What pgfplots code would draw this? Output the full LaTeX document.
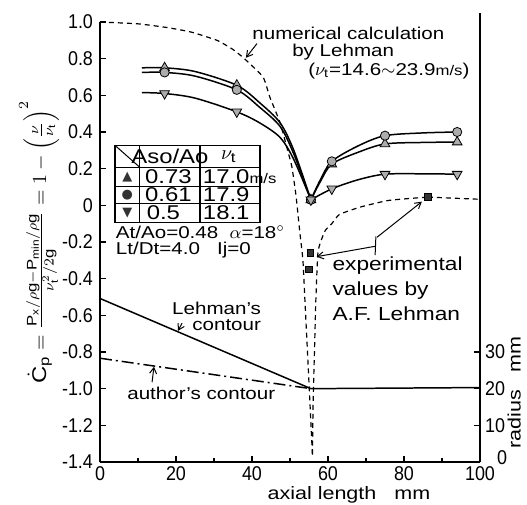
\documentclass[border=0pt]{standalone}
\usepackage{pgfplots}
\pgfplotsset{compat=1.18}
\usepackage{pgfplotstable}
\usepackage{amsmath}
\usepackage{fontspec}
\setmainfont{Liberation Sans}[FakeStretch=1.2]
\newfontfamily\tickfont{Liberation Sans}[FakeStretch=0.9]
\newfontfamily\symfont{DejaVu Sans}
\usetikzlibrary{arrows.meta}

% numerical calculation by Lehman (dashed), split at the throat
\pgfplotstableread{
x y
0 1.0
10 0.99
17.6 0.97
24 0.945
30.8 0.90
35 0.85
38 0.80
42.9 0.70
44.7 0.59
47.4 0.45
49.5 0.29
50.5 0.21
51.6 0.05
52.6 -0.15
53.4 -0.30
54.0 -0.55
54.6 -0.80
55.3 -1.10
55.9 -1.36
}\numleft
\pgfplotstableread{
x y
55.9 -1.36
56.1 -1.06
56.5 -0.75
56.8 -0.52
57.4 -0.25
59.2 -0.14
61 -0.10
63 -0.05
68.4 -0.01
76 0.027
86.3 0.045
}\numright

% measured Cp, Aso/Ao = 0.73, 0.61, 0.5
\pgfplotstableread{
x y
17 0.75
36 0.655
55.5 0.03
61 0.225
75 0.335
94 0.345
}\dataA
\pgfplotstableread{
x y
17 0.725
36 0.63
55.5 0.03
61 0.24
75 0.38
94 0.40
}\dataB
\pgfplotstableread{
x y
17 0.61
36 0.51
55.5 0.03
61 0.09
75 0.17
94 0.17
}\dataC

\tikzset{
  ann/.style={font=\fontsize{8.6}{10}\selectfont, inner sep=0pt, anchor=west},
  tab/.style={font=\fontsize{10}{11}\selectfont, inner sep=0pt},
  tabw/.style={tab, anchor=west},
  sym/.style={font=\symfont\fontsize{6.5}{7}\selectfont, text=black!80, inner sep=0pt},
}

\begin{document}
\begin{tikzpicture}[>={Straight Barb[length=3bp,width=3.5bp]}]
\useasboundingbox (-50bp,-21.5bp) rectangle (213.5bp,231bp);
\begin{axis}[
  scale only axis, width=190bp, height=220bp,
  xmin=0, xmax=100, ymin=-1.4, ymax=1.0,
  axis lines=left, axis line style={-, line width=0.75pt},
  xtick={0,20,40,60,80,100}, minor xtick={10,30,50,70,90},
  xticklabels={0,20,40,60,80,100},
  ytick={-1.4,-1.2,-1.0,-0.8,-0.6,-0.4,-0.2,0,0.2,0.4,0.6,0.8,1.0},
  yticklabels={-1.4,-1.2,-1.0,-0.8,-0.6,-0.4,-0.2,0,0.2,0.4,0.6,0.8,1.0},
  /pgf/number format/assume math mode=true,
  tick align=inside, major tick length=3bp, minor tick length=2bp,
  tick style={black, line width=0.6pt},
  ticklabel style={font=\tickfont\fontsize{10}{12}\selectfont},
  xticklabel style={yshift=1bp},
  clip=false,
  xlabel={axial length\quad mm},
  xlabel style={at={(axis description cs:0.655,-0.075)}, anchor=center, font=\fontsize{9}{11}\selectfont},
  ylabel={$\dot{\text{C}}_{\text{p}}=\frac{\text{P}_{\text{x}}/\rho\text{g}-\text{P}_{\text{min}}/\rho\text{g}}{\nu_{\text{t}}^{2}/2\text{g}}=1-\left(\frac{\nu}{\nu_{\text{t}}}\right)^{2}$},
  ylabel style={at={(axis description cs:-0.16,0.50)}, anchor=center, font=\fontsize{10}{12}\selectfont},
]
% numerical curve
\addplot[black, line width=0.6pt, dash pattern=on 2.5pt off 2pt, smooth, tension=0.3] table {\numleft};
\addplot[black, line width=0.6pt, dash pattern=on 2.5pt off 2pt, smooth, tension=0.3] table {\numright};
\addplot[black, line width=0.6pt, dash pattern=on 2.5pt off 2pt] coordinates {(86.3,0.045)(100,0.033)};

% measured curves
\addplot[black, line width=0.75pt, smooth] coordinates {(11,0.75)(17,0.75)(25,0.73)(36,0.655)(42,0.56)(47.4,0.45)(51,0.30)(55.5,0.03)};
\addplot[black, line width=0.75pt, smooth] coordinates {(11,0.725)(17,0.725)(25,0.705)(36,0.63)(42,0.535)(47.4,0.43)(51,0.28)(55.5,0.03)};
\addplot[black, line width=0.75pt, smooth] coordinates {(11,0.615)(17,0.61)(25,0.585)(36,0.51)(42,0.45)(47.4,0.37)(51,0.25)(55.5,0.03)};
\addplot[black, line width=0.75pt, smooth] coordinates {(55.5,0.03)(58,0.14)(61,0.24)(68,0.325)(75,0.38)(85,0.395)(94,0.40)};
\addplot[black, line width=0.75pt, smooth] coordinates {(55.5,0.03)(58,0.13)(61,0.225)(68,0.29)(75,0.335)(85,0.343)(94,0.345)};
\addplot[black, line width=0.75pt, smooth] coordinates {(55.5,0.03)(61,0.09)(68,0.14)(75,0.17)(85,0.172)(94,0.17)};

% markers
\addplot[only marks, mark=triangle*, mark size=2.8bp, mark options={fill=gray!65, draw=black}] table {\dataA};
\addplot[only marks, mark=*, mark size=2.3bp, mark options={fill=gray!65, draw=black}] table {\dataB};
\addplot[only marks, mark=triangle*, mark size=2.8bp, mark options={rotate=180, fill=gray!65, draw=black}] table {\dataC};

% experimental values by A.F. Lehman
\addplot[only marks, mark=square*, mark size=1.6bp, mark options={fill=black!80, draw=black}] coordinates {(55.3,-0.26)(55.0,-0.35)(86.3,0.045)};

% table of test conditions
\draw[line width=0.6pt] (axis cs:3.95,0.327) rectangle (axis cs:42.1,-0.093);
\draw[line width=0.6pt] (axis cs:10.5,0.327) -- (axis cs:10.5,-0.093);
\draw[line width=0.6pt] (axis cs:26.3,0.327) -- (axis cs:26.3,-0.093);
\draw[line width=0.6pt] (axis cs:3.95,0.207) -- (axis cs:42.1,0.207);
\draw[line width=0.6pt] (axis cs:3.95,0.104) -- (axis cs:42.1,0.104);
\draw[line width=0.6pt] (axis cs:3.95,0.011) -- (axis cs:42.1,0.011);
\draw[line width=0.5pt] (axis cs:3.95,0.327) -- (axis cs:10.5,0.207);
\node[tab] at (axis cs:18.4,0.267) {Aso/Ao};
\node[tab] at (axis cs:33.9,0.267) {$\nu_{\text{t}}$};
\node[tab] at (axis cs:18.0,0.155) {0.73};
\node[tab] at (axis cs:18.0,0.057) {0.61};
\node[tabw] at (axis cs:12.2,-0.041) {0.5};
\node[tabw] at (axis cs:27.0,0.155) {17.0{\fontsize{7}{8}\selectfont m/s}};
\node[tabw] at (axis cs:27.0,0.057) {17.9};
\node[tabw] at (axis cs:27.0,-0.041) {18.1};
\node[tabw, font=\fontsize{8.6}{10}\selectfont] at (axis cs:4.1,-0.146) {At/Ao=0.48\ \ $\alpha$=18$^{\circ}$};
\node[tabw, font=\fontsize{8.6}{10}\selectfont] at (axis cs:4.1,-0.242) {Lt/Dt=4.0\ \ \ Ij=0};
\node[sym] at (axis cs:7.2,0.155) {▲};
\node[sym] at (axis cs:7.2,0.057) {●};
\node[sym] at (axis cs:7.2,-0.041) {▼};

% annotations
\node[ann] at (axis cs:40.0,0.940) {numerical calculation};
\node[ann] at (axis cs:50.5,0.838) {by Lehman};
\node[ann] at (axis cs:54.7,0.730) {($\nu_{\text{t}}$=14.6$\sim$23.9{\fontsize{7}{8}\selectfont m/s})};
\node[ann, font=\fontsize{9.5}{11}\selectfont] at (axis cs:61.1,-0.327) {experimental};
\node[ann, font=\fontsize{9.5}{11}\selectfont] at (axis cs:61.1,-0.463) {values by};
\node[ann, font=\fontsize{9.5}{11}\selectfont] at (axis cs:61.1,-0.589) {A.F. Lehman};
\node[ann] at (axis cs:18.9,-0.560) {Lehman's};
\node[ann] at (axis cs:24.2,-0.652) {contour};
\node[ann] at (axis cs:7.1,-1.025) {author's contour};
\draw[->, line width=0.5pt] (axis cs:41.3,0.882) -- (axis cs:38.4,0.805);
\draw[->, line width=0.5pt] (axis cs:72.9,-0.174) -- (axis cs:84.7,0.02);
\draw[line width=0.5pt] (axis cs:72.6,-0.17) -- (axis cs:72.4,-0.272);
\draw[->, line width=0.5pt] (axis cs:72.5,-0.223) -- (axis cs:57.0,-0.28);
\draw[->, line width=0.5pt] (axis cs:21.6,-0.643) -- (axis cs:20.5,-0.685);
\draw[->, line width=0.5pt] (axis cs:13.7,-0.965) -- (axis cs:14.2,-0.880);
\end{axis}

% radius of the nozzle contours, right-hand scale
\begin{axis}[
  scale only axis, width=190bp, height=220bp,
  xmin=0, xmax=100, ymin=0, ymax=120,
  axis x line=none, axis y line*=right, axis line style={-, line width=0.75pt},
  ytick={0,10,20,30},
  yticklabels={\raisebox{4.5bp}{\hspace{6bp}0},10,20,30},
  /pgf/number format/assume math mode=true,
  tick align=inside, major tick length=3bp,
  tick style={black, line width=0.6pt},
  yticklabel style={xshift=-1bp, font=\tickfont\fontsize{10}{12}\selectfont},
  clip=false,
]
\addplot[black, line width=0.75pt] coordinates {(0,44.6)(55.5,20)};
\addplot[black, line width=0.75pt, dash pattern=on 6pt off 2pt on 1pt off 2pt] coordinates {(0,28.3)(55.5,20)};
\addplot[black, line width=0.75pt] coordinates {(55.5,20)(100,20.3)};
\draw[line width=0.75pt] (axis cs:100,120) -- ++(0,4.5bp);
\node[rotate=90, font=\fontsize{9}{11}\selectfont] at (axis cs:109,19) {radius\quad mm};
\end{axis}
\end{tikzpicture}
\end{document}
